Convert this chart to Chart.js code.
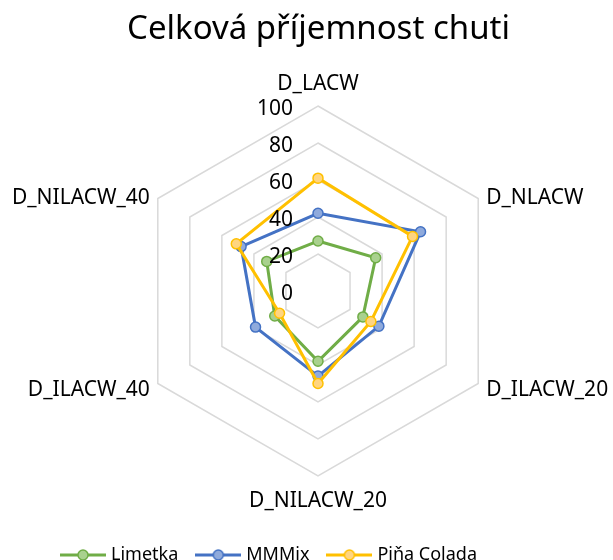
<!DOCTYPE html>
<html>
<head>
<meta charset="utf-8">
<script src="https://cdn.jsdelivr.net/npm/chart.js@4/dist/chart.umd.min.js"></script>
<style>
    body { margin: 0; background: #fff; }
    #chart { display: block; }
</style>
</head>
<body>
<canvas id="chart" width="613" height="560"></canvas>
<script>
// Data
const categories = ['D_LACW', 'D_NLACW', 'D_ILACW_20', 'D_NILACW_20', 'D_ILACW_40', 'D_NILACW_40'];
const limetka = [27, 36, 28, 38, 27, 32];
const mmmix = [42, 64, 38, 46, 39, 48];
const pinaColada = [61, 59, 33, 50, 24, 51];
const tickStep = 20;
const tickMax = 100;

const FONT = '"Noto Sans", sans-serif';

// Ikona do legendy: cara s kolečkem
function legendIcon(line, fill) {
    const c = document.createElement('canvas');
    c.width = 46;
    c.height = 14;
    const ctx = c.getContext('2d');
    ctx.strokeStyle = line;
    ctx.lineWidth = 3;
    ctx.beginPath();
    ctx.moveTo(0, 7);
    ctx.lineTo(46, 7);
    ctx.stroke();
    ctx.beginPath();
    ctx.arc(23, 7, 5, 0, Math.PI * 2);
    ctx.fillStyle = fill;
    ctx.fill();
    ctx.lineWidth = 1.5;
    ctx.stroke();
    return c;
}

// Popisky os a hodnot kreslené podle geometrie škály
const axisText = {
    id: 'axisText',
    afterDatasetsDraw(chart) {
        const scale = chart.scales.r;
        const ctx = chart.ctx;
        ctx.save();
        ctx.fillStyle = '#000';
        ctx.font = '21px ' + FONT;
        ctx.textBaseline = 'alphabetic';

        ctx.textAlign = 'right';
        scale.ticks.forEach(t => {
            const y = scale.yCenter - scale.getDistanceFromCenterForValue(t.value);
            ctx.fillText(t.label, scale.xCenter - 25, y + 9);
        });

        chart.data.labels.forEach((name, i) => {
            const p = scale.getPointPosition(i, scale.drawingArea);
            const dx = p.x - scale.xCenter;
            const dy = p.y - scale.yCenter;
            if (Math.abs(dx) < 1) {
                ctx.textAlign = 'center';
                ctx.fillText(name, p.x, dy < 0 ? p.y - 16 : p.y + 31);
            } else {
                ctx.textAlign = dx > 0 ? 'left' : 'right';
                ctx.fillText(name, p.x + (dx > 0 ? 8 : -8), p.y + (dy < 0 ? 5 : 12));
            }
        });
        ctx.restore();
    }
};

// Posunout legendu dolů a doleva jako v originále
const legendPlace = {
    id: 'legendPlace',
    afterLayout(chart) {
        const lg = chart.legend;
        lg.left -= 48;
        lg.right -= 48;
        lg.top += 49;
        lg.bottom += 49;
    }
};

Chart.defaults.font.family = FONT;
Chart.defaults.color = '#000';

const ds = (label, data, line, fill, order) => ({
    label: label,
    data: data,
    borderColor: line,
    backgroundColor: fill,
    pointBackgroundColor: fill,
    pointBorderColor: line,
    borderWidth: 3,
    pointRadius: 5,
    pointHoverRadius: 5,
    pointBorderWidth: 1.5,
    fill: false,
    tension: 0,
    order: order
});

new Chart(document.getElementById('chart'), {
    type: 'radar',
    data: {
        labels: categories,
        datasets: [
            ds('Limetka', limetka, '#70AD47', '#A9D18E', 3),
            ds('MMMix', mmmix, '#4472C4', '#8FAADC', 2),
            ds('Piňa Colada', pinaColada, '#FFC000', '#FFD580', 1)
        ]
    },
    options: {
        responsive: false,
        animation: false,
        layout: { padding: { left: 24, right: 0, top: 0, bottom: 35 } },
        plugins: {
            title: {
                display: true,
                text: 'Celková příjemnost chuti',
                color: '#000',
                font: { size: 33, weight: 'normal' },
                padding: { top: 10, bottom: 56.4 }
            },
            legend: {
                position: 'bottom',
                labels: {
                    usePointStyle: true,
                    pointStyleWidth: 38,
                    padding: 21,
                    color: '#000',
                    font: { size: 18 },
                    generateLabels(chart) {
                        return chart.data.datasets.map((d, i) => ({
                            text: d.label,
                            datasetIndex: i,
                            pointStyle: legendIcon(d.borderColor, d.pointBackgroundColor),
                            fillStyle: 'transparent',
                            strokeStyle: 'transparent',
                            lineWidth: 0,
                            fontColor: '#000',
                            hidden: !chart.isDatasetVisible(i)
                        }));
                    }
                }
            },
            tooltip: { enabled: false }
        },
        scales: {
            r: {
                min: 0,
                max: tickMax,
                ticks: { stepSize: tickStep, display: false },
                grid: { color: '#D9D9D9', lineWidth: 1.5 },
                angleLines: { display: false },
                pointLabels: { display: false }
            }
        }
    },
    plugins: [axisText, legendPlace]
});
</script>
</body>
</html>
